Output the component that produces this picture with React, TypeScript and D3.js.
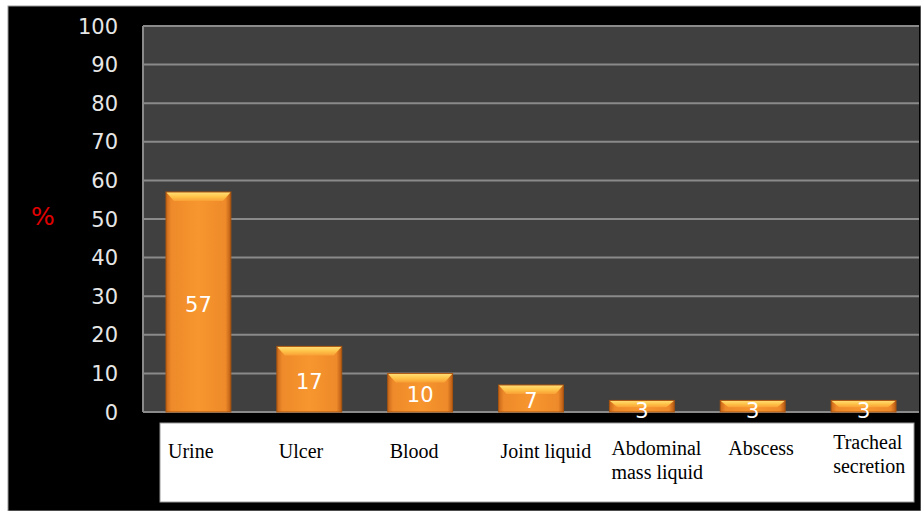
import React from "react";
import * as d3 from "d3";

const categories = ["Urine", "Ulcer", "Blood", "Joint liquid", "Abdominal\nmass liquid", "Abscess", "Tracheal\nsecretion"];
const values = [57, 17, 10, 7, 3, 3, 3];
const yTicks = [0, 10, 20, 30, 40, 50, 60, 70, 80, 90, 100];

const W = 921;
const H = 511;
const plot = { left: 143, right: 919, top: 26, bottom: 412 };

export default function App() {
  const x = d3.scaleBand<string>().domain(categories).range([plot.left, plot.right]).paddingInner(0.415).paddingOuter(0.2075);
  const y = d3.scaleLinear().domain([0, 100]).range([plot.bottom, plot.top]);
  const bw = x.bandwidth();
  const tickFont = "'DejaVu Sans', sans-serif";

  return (
    <svg width={W} height={H} style={{ position: "absolute", left: 0, top: 0 }} xmlns="http://www.w3.org/2000/svg">
      <defs>
        <linearGradient id="barBody" x1="0" x2="1" y1="0" y2="0">
          <stop offset="0" stopColor="#c9671a" />
          <stop offset="0.08" stopColor="#ee8a2a" />
          <stop offset="0.5" stopColor="#f7962e" />
          <stop offset="0.92" stopColor="#ee8a2a" />
          <stop offset="1" stopColor="#b85a14" />
        </linearGradient>
        <linearGradient id="barTop" x1="0" x2="0" y1="0" y2="1">
          <stop offset="0" stopColor="#ffe07a" />
          <stop offset="0.5" stopColor="#ffc54a" />
          <stop offset="1" stopColor="#f9a035" />
        </linearGradient>
      </defs>
      <rect x={0} y={0} width={W} height={H} fill="#ffffff" />
      <rect x={8} y={6} width={W - 8} height={H - 6} fill="#000000" stroke="#9a9a9a" strokeWidth={1} />
      <rect x={plot.left} y={plot.top} width={plot.right - plot.left} height={plot.bottom - plot.top} fill="#404040" />
      {yTicks.map((t) => (
        <g key={t}>
          {t > 0 && (
            <line x1={plot.left} x2={plot.right} y1={y(t)} y2={y(t)} stroke="#8a8a8a" strokeWidth={2} />
          )}
          <text x={118} y={y(t)} dy="0.36em" textAnchor="end" fill="#e6e6e6" fontFamily={tickFont} fontSize={21}>
            {t}
          </text>
        </g>
      ))}
      <line x1={plot.left} x2={plot.left} y1={plot.top} y2={plot.bottom} stroke="#8a8a8a" strokeWidth={2} />
      <line x1={plot.left} x2={plot.right} y1={plot.bottom} y2={plot.bottom} stroke="#8a8a8a" strokeWidth={2} />
      <text x={43} y={216} dy="0.36em" textAnchor="middle" fill="#e00000" fontFamily={tickFont} fontSize={25}>
        %
      </text>
      {categories.map((c, i) => {
        const x0 = x(c)!;
        const yt = y(values[i]);
        const h = plot.bottom - yt;
        const bev = Math.min(9, h * 0.6);
        return (
          <g key={c}>
            <rect x={x0} y={yt} width={bw} height={h} fill="url(#barBody)" />
            <path
              d={`M${x0},${yt} L${x0 + bw},${yt} L${x0 + bw - 8},${yt + bev} L${x0 + 8},${yt + bev} Z`}
              fill="url(#barTop)"
            />
            <rect x={x0} y={yt} width={bw} height={h} fill="none" stroke="#a9540f" strokeWidth={1} />
          </g>
        );
      })}
      {categories.map((c, i) => {
        const yt = y(values[i]);
        const cy = (yt + plot.bottom) / 2 + (values[i] < 5 ? 4 : 2);
        return (
          <text key={c} x={x(c)! + bw / 2} y={cy} dy="0.36em" textAnchor="middle" fill="#ffffff" fontFamily={tickFont} fontSize={21}>
            {values[i]}
          </text>
        );
      })}
      <rect x={160} y={423} width={754} height={79} fill="#ffffff" stroke="#9a9a9a" strokeWidth={1} />
      {categories.map((c) => {
        const lines = c.split("\n");
        const x0 = x(c)! + (c === "Abscess" ? 8 : 2);
        const base = lines.length === 1 ? 458 : 455;
        const first = c.startsWith("Tracheal") ? 449 : c === "Abscess" ? 455 : base;
        return (
          <text key={c} x={x0} y={first} fill="#000000" fontFamily="'Liberation Serif', 'Times New Roman', serif" fontSize={20}>
            {lines.map((l, j) => (
              <tspan key={j} x={x0} dy={j === 0 ? 0 : 24}>
                {l}
              </tspan>
            ))}
          </text>
        );
      })}
    </svg>
  );
}
